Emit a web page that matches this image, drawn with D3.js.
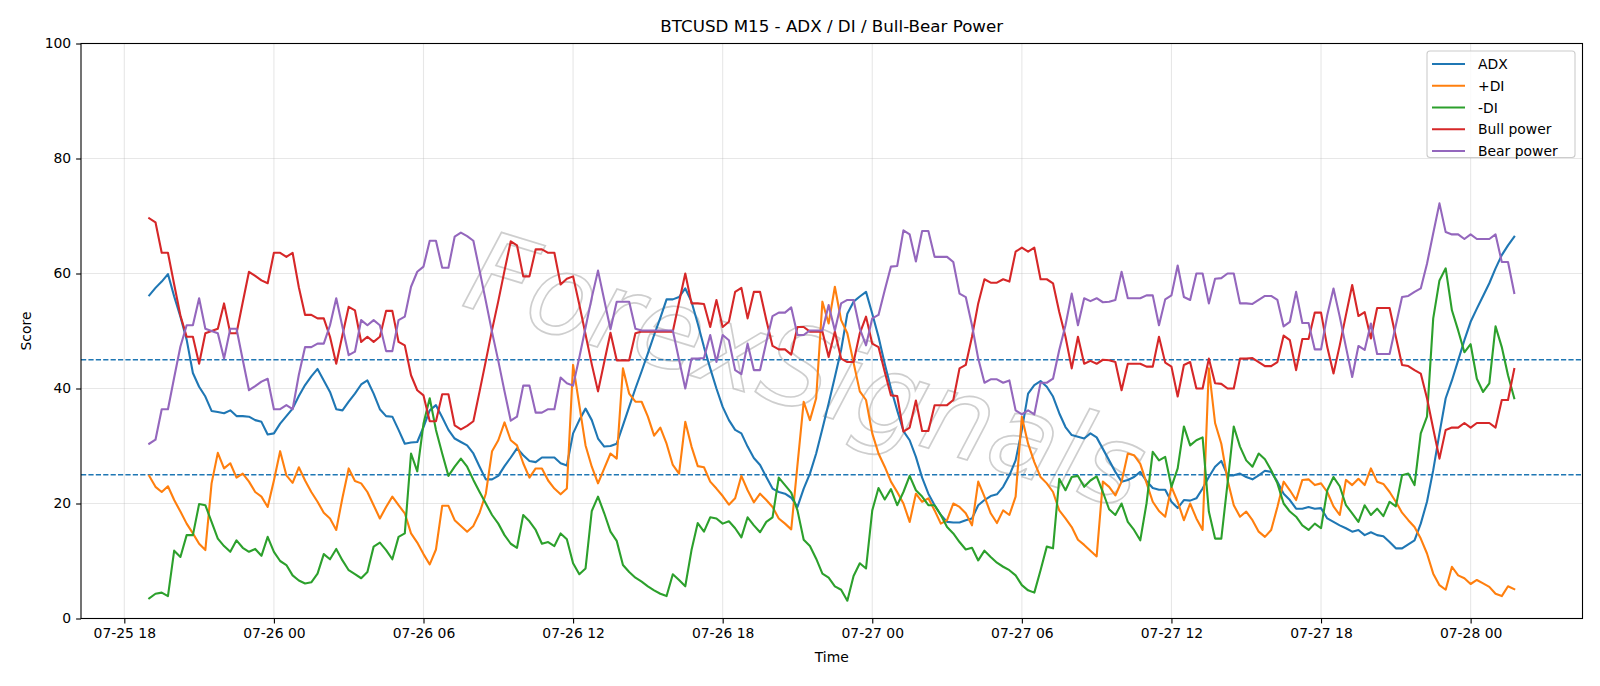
<!DOCTYPE html>
<html><head><meta charset="utf-8">
<script src="https://cdn.jsdelivr.net/npm/d3@7"></script>
<style>body{margin:0;background:#fff}svg{display:block}</style>
</head><body>
<svg id="chart" width="1600" height="686"></svg>
<script>
// ---- data ----
const startTime = new Date(2025, 6, 25, 19, 0);
const stepMinutes = 15;

const adx = [
56.2,57.5,58.6,59.9,56,52.5,48.5,42.7,40.3,38.6,
36.1,35.9,35.7,36.2,35.2,35.2,35.1,34.5,34.2,32,
32.2,33.9,35.2,36.5,38.7,40.6,42.1,43.4,41.4,39.4,
36.4,36.2,37.7,39.1,40.7,41.4,39.1,36.4,35.2,35.1,
32.8,30.4,30.6,30.7,33.3,36.2,37.1,35,32.8,31.3,
30.7,30.1,28.7,26.4,24.2,24.2,24.8,26.5,28,29.6,
28.4,27.4,27.2,28,28,28,27,26.6,32.2,34.5,
36.5,34.5,31.3,29.9,30,30.4,33.6,36.8,40,43,
46.1,49.3,52.3,55.5,55.5,55.9,57.4,55.1,51.3,47.2,
43.5,40,36.8,34.5,32.8,32.2,29.9,27.9,26.7,24.6,
22.6,22,21.7,21,19.4,22.6,25.2,28.7,33,37.4,
42,46.7,53,55.1,56,56.8,53,49,44.3,40,
36.2,32.6,31,28.1,24.5,21.7,19.7,18,16.8,16.7,
16.7,17.1,17.4,19.7,20.6,21.3,21.6,22.9,24.9,27.5,
32.8,39.1,40.6,41.3,40.3,38.6,35.7,33.3,31.9,31.6,
31.3,32.2,31.5,29.5,27.5,25.5,23.8,24.1,24.6,25.5,
23.9,22.7,22.4,22.4,20.3,19.2,20.6,20.5,20.9,22.6,
24.6,26.4,27.4,24.9,24.9,25.2,24.6,24.2,24.9,25.7,
25.5,23.8,21.7,20.6,19.1,19.1,19.4,19.1,19.2,17.4,
16.8,16.2,15.7,15.1,15.4,14.5,15,14.5,14.3,13.3,
12.2,12.2,12.9,13.6,16.5,20.3,25.8,32.2,38.3,41.4,
44.9,48.4,51.6,53.9,56.1,58.3,60.9,63.2,64.9,66.4];

const plusDI = [
24.8,22.9,22,23,20.6,18.6,16.5,14.8,13,11.9,
23.5,28.8,26.1,27,24.5,25.2,23.8,22,21.2,19.4,
24,29.1,24.9,23.6,26.3,24,22,20.3,18.4,17.4,
15.4,21,26.1,23.9,23.5,22,19.7,17.4,19.4,21.2,
19.7,18.3,14.8,13.2,11.2,9.4,12,19.6,19.6,17.1,
16.1,15.1,16.1,18.4,21.7,29.1,31,34.1,31,30.1,
27,24.5,26.1,26.1,24,22.6,21.6,22.6,44.1,37.1,
30.1,26.4,23.5,26.1,28.7,27.8,43.5,39.1,37.7,37.7,
35.1,31.8,33.2,30.4,26.7,25.2,34.2,29.9,26.5,26.3,
23.8,22.6,21.3,19.8,20.9,24.8,22.3,20.2,21.7,20.6,
19.4,17.4,16.5,15.5,26.7,37.7,34.5,38.3,55.1,51.3,
57.7,51.9,49.6,44.5,39.5,38,32.2,28.7,26.4,23.8,
22,20,16.8,21.7,20.3,20.9,18.8,16.5,17.1,20,
19.4,18.3,16.2,23.8,21.2,18.3,16.6,18.8,18,21.2,
35.1,30.4,27.2,24.6,23.5,22,18.8,17.4,15.9,13.7,
12.8,11.8,10.8,23.8,22.9,21.4,23.8,28.7,28.4,26.9,
23.6,20.3,18.7,17.7,22.9,20.3,17.1,20,17.4,15.4,
43.5,34,30.4,24.1,19.7,17.7,18.6,17.1,15.1,14.2,
15.4,19.4,23.8,22.3,20.6,24.1,24.2,23.2,23.5,22,
19.5,18,24.1,23.2,24.3,23.2,26.1,23.8,23.4,22,
20.3,18.4,17.1,15.9,13.9,11.3,7.8,5.8,5,9,
7.5,7,6,6.7,6.1,5.5,4.3,3.9,5.6,5.1];

const minusDI = [
3.5,4.3,4.5,3.9,11.8,10.7,14.5,14.5,19.9,19.7,
16.8,13.9,12.6,11.6,13.6,12.3,11.6,12.1,10.9,14.2,
11.6,10,9.3,7.5,6.6,6.1,6.3,7.8,11.2,10.3,
12.1,10.1,8.4,7.7,7,8.1,12.5,13.2,11.9,10.3,
14.2,14.8,28.7,25.6,33.9,38.3,32.8,28.7,24.8,26.4,
27.8,26.4,24.1,22,20,18,16.5,14.5,13,12.3,
18,16.9,15.4,13,13.3,12.6,14.8,13.8,9.6,7.7,
8.7,18.7,21.2,18.3,15.1,13.5,9.3,8.1,7.1,6.4,
5.6,4.9,4.3,3.9,7.7,6.7,5.6,11.9,16.6,15.1,
17.6,17.4,16.5,16.9,15.7,14.1,17.6,16.2,15,16.8,
17.6,24.5,23.2,21.9,18.8,13.7,12.6,10.4,7.8,7.1,
5.6,5,3.1,7.4,9.6,8.7,18.8,22.7,20.7,22.5,
19.7,22,24.8,22.3,21.2,19.7,19.7,18,15.9,14.8,
13.3,12,12.3,10.1,11.8,10.7,9.7,9,8.4,7.5,
5.8,4.9,4.5,8.4,12.5,12.2,24.3,22.3,24.6,24.8,
22.9,24,24.7,22,19,18,20,16.8,15.4,13.6,
20,29,27.5,28.1,22.9,26.1,33.4,30.1,31,31.5,
18.6,13.9,13.9,23.5,33.4,29.9,27.5,26.4,28.7,27.7,
25.8,23.5,20,18.6,17.7,16.2,15.4,16.5,15.7,22.3,
24.6,23,19.7,18.3,16.8,19.7,18,19.1,17.8,20.3,
19.5,24.9,25.2,23.2,32.2,35.1,52.2,58.8,60.9,53.6,
50.1,46.3,47.7,41.7,39.4,40.9,50.8,47.2,42.3,38.3];

const bullPower = [
69.6,68.9,63.6,63.6,58.1,52.7,49,49,44.3,49.6,
50,50.4,54.8,49.6,49.6,55,60.3,59.6,58.8,58.3,
63.6,63.6,62.9,63.6,57.6,52.8,52.8,52.2,52.2,49,
44.3,49.3,54.2,53.6,48.1,49,48.1,49,53.5,53.5,
48.1,47.5,42.3,39.7,38.8,34.3,34.3,39,39,33.6,
32.9,33.5,34.3,39.5,44.8,50.2,55.2,60.5,65.6,64.9,
59.5,59.5,64.2,64.2,63.6,63.6,58.1,59.1,59.5,54.6,
49.4,44.2,39.5,44.6,49.7,44.9,44.9,44.9,49.6,49.9,
49.9,49.9,49.9,49.9,49.9,55,60,54.8,54.8,54.7,
50.7,55.4,50.7,51.6,56.8,57.5,52.2,56.8,56.8,51.9,
47.4,46.8,46.8,45.9,50.7,50.7,49.9,49.9,49.9,45.5,
49.9,45.2,44.6,44.6,49.6,52.5,47.8,47.2,42.9,38.8,
38.7,32.5,33.2,37.9,32.6,32.6,37.1,37.1,37.1,38,
43.5,44.1,49,54.8,59,58.4,58.4,59,58.6,63.8,
64.5,63.8,64.5,59,59,58.3,53.3,49,43.5,49,
44.3,44.8,44.3,45,44.9,44.6,39.7,44.3,44.3,44.3,
43.8,43.8,49,44.5,43.8,38.6,44.1,44.6,40,40,
45.2,40.9,40.8,40,40,45.2,45.2,45.3,44.6,43.9,
43.9,44.6,49.2,48.4,43.2,48.6,48.6,53.2,53.2,47.2,
42.6,47.5,52.8,58,52.6,53.3,48.7,54,54,54,
49,44.1,43.9,43.2,42.6,38.3,33,27.8,32.8,33.2,
33.2,34,33.2,34,34,34,33.2,38,38,43.4];

const bearPower = [
30.4,31.1,36.4,36.4,41.9,47.3,51,51,55.7,50.4,
50,49.6,45.2,50.4,50.4,45,39.7,40.4,41.2,41.7,
36.4,36.4,37.1,36.4,42.4,47.2,47.2,47.8,47.8,51,
55.7,50.7,45.8,46.4,51.9,51,51.9,51,46.5,46.5,
51.9,52.5,57.7,60.3,61.2,65.7,65.7,61,61,66.4,
67.1,66.5,65.7,60.5,55.2,49.8,44.8,39.5,34.4,35.1,
40.5,40.5,35.8,35.8,36.4,36.4,41.9,40.9,40.5,45.4,
50.6,55.8,60.5,55.4,50.3,55.1,55.1,55.1,50.4,50.1,
50.1,50.1,50.1,50.1,50.1,45,40,45.2,45.2,45.3,
49.3,44.6,49.3,48.4,43.2,42.5,47.8,43.2,43.2,48.1,
52.6,53.2,53.2,54.1,49.3,49.3,50.1,50.1,50.1,54.5,
50.1,54.8,55.4,55.4,50.4,47.5,52.2,52.8,57.1,61.2,
61.3,67.5,66.8,62.1,67.4,67.4,62.9,62.9,62.9,62,
56.5,55.9,51,45.2,41,41.6,41.6,41,41.4,36.2,
35.5,36.2,35.5,41,41,41.7,46.7,51,56.5,51,
55.7,55.2,55.7,55,55.1,55.4,60.3,55.7,55.7,55.7,
56.2,56.2,51,55.5,56.2,61.4,55.9,55.4,60,60,
54.8,59.1,59.2,60,60,54.8,54.8,54.7,55.4,56.1,
56.1,55.4,50.8,51.6,56.8,51.4,51.4,46.8,46.8,52.8,
57.4,52.5,47.2,42,47.4,46.7,51.3,46,46,46,
51,55.9,56.1,56.8,57.4,61.7,67,72.2,67.2,66.8,
66.8,66,66.8,66,66,66,66.8,62,62,56.6];

const seriesNames = ["ADX", "+DI", "-DI", "Bull power", "Bear power"];
const seriesColors = ["#1f77b4", "#ff7f0e", "#2ca02c", "#d62728", "#9467bd"];
const seriesValues = [adx, plusDI, minusDI, bullPower, bearPower];
const refLevels = [45, 25];
const yTicks = [0, 20, 40, 60, 80, 100];
const xTickHours = [0, 6, 12, 18, 24, 30, 36, 42, 48, 54]; // offsets from 07-25 18:00
const xTickBase = new Date(2025, 6, 25, 18, 0);

// ---- layout ----
const W = 1600, H = 686;
const plot = {left: 81, right: 1582.5, top: 43.5, bottom: 618.5};
const FONT = "DejaVu Sans, Liberation Sans, sans-serif";

const times = adx.map((_, i) => new Date(startTime.getTime() + i * stepMinutes * 60000));
const t0 = times[0].getTime(), t1 = times[times.length - 1].getTime();
const pad = (t1 - t0) * 0.05;

const x = d3.scaleTime().domain([new Date(t0 - pad), new Date(t1 + pad)]).range([plot.left, plot.right]);
const y = d3.scaleLinear().domain([0, 100]).range([plot.bottom, plot.top]);

const svg = d3.select("#chart");
svg.append("rect").attr("width", W).attr("height", H).attr("fill", "#fff");

const xTicks = xTickHours.map(h => new Date(xTickBase.getTime() + h * 3600000));
const fmt = d3.timeFormat("%m-%d %H");

// grid
const grid = svg.append("g");
grid.selectAll("line.gx").data(xTicks).enter().append("line")
  .attr("x1", d => x(d)).attr("x2", d => x(d))
  .attr("y1", plot.top).attr("y2", plot.bottom)
  .attr("stroke", "#b0b0b0").attr("stroke-opacity", 0.3).attr("stroke-width", 1.1);
grid.selectAll("line.gy").data(yTicks).enter().append("line")
  .attr("x1", plot.left).attr("x2", plot.right)
  .attr("y1", d => y(d)).attr("y2", d => y(d))
  .attr("stroke", "#b0b0b0").attr("stroke-opacity", 0.3).attr("stroke-width", 1.1);

// watermark
svg.append("text")
  .attr("transform", "translate(460,305) rotate(17)")
  .attr("font-family", FONT).attr("font-style", "italic")
  .attr("font-size", 112)
  .attr("textLength", 700).attr("lengthAdjust", "spacingAndGlyphs")
  .attr("fill", "none").attr("stroke", "#bdbdbd").attr("stroke-width", 1.7)
  .attr("stroke-opacity", 0.75)
  .text("ForexSignals");

// reference lines
svg.selectAll("line.ref").data(refLevels).enter().append("line")
  .attr("x1", plot.left).attr("x2", plot.right)
  .attr("y1", d => y(d)).attr("y2", d => y(d))
  .attr("stroke", "#1f77b4").attr("stroke-width", 1.4)
  .attr("stroke-dasharray", "5.2,2.2");

// series
const clipId = "plotclip";
svg.append("clipPath").attr("id", clipId).append("rect")
  .attr("x", plot.left).attr("y", plot.top)
  .attr("width", plot.right - plot.left).attr("height", plot.bottom - plot.top);
const line = d3.line().x((d, i) => x(times[i])).y(d => y(d));
const linesG = svg.append("g").attr("clip-path", `url(#${clipId})`);
seriesValues.forEach((vals, k) => {
  linesG.append("path").datum(vals)
    .attr("d", line)
    .attr("fill", "none")
    .attr("stroke", seriesColors[k])
    .attr("stroke-width", 2.1)
    .attr("stroke-linejoin", "round")
    .attr("stroke-linecap", "square");
});

// axes
const xAxis = d3.axisBottom(x).tickValues(xTicks).tickFormat(fmt).tickSizeOuter(0).tickSize(4.9).tickPadding(4.9);
const yAxis = d3.axisLeft(y).tickValues(yTicks).tickSizeOuter(0).tickSize(4.9).tickPadding(4.9);
const gx = svg.append("g").attr("transform", `translate(0,${plot.bottom})`).call(xAxis);
const gy = svg.append("g").attr("transform", `translate(${plot.left},0)`).call(yAxis);
[gx, gy].forEach(g => {
  g.select(".domain").remove();
  g.selectAll(".tick line").attr("stroke", "#000").attr("stroke-width", 1.1);
  g.selectAll(".tick text").attr("font-family", FONT).attr("font-size", 13.9).attr("fill", "#000");
});

// frame
svg.append("rect")
  .attr("x", plot.left).attr("y", plot.top)
  .attr("width", plot.right - plot.left).attr("height", plot.bottom - plot.top)
  .attr("fill", "none").attr("stroke", "#000").attr("stroke-width", 1.1);

// title & labels
svg.append("text").attr("x", (plot.left + plot.right) / 2).attr("y", 31.5)
  .attr("text-anchor", "middle").attr("font-family", FONT).attr("font-size", 16.7)
  .text("BTCUSD M15 - ADX / DI / Bull-Bear Power");
svg.append("text").attr("x", (plot.left + plot.right) / 2).attr("y", 661.5)
  .attr("text-anchor", "middle").attr("font-family", FONT).attr("font-size", 13.9)
  .text("Time");
svg.append("text").attr("transform", `translate(30.5,${(plot.top + plot.bottom) / 2}) rotate(-90)`)
  .attr("text-anchor", "middle").attr("font-family", FONT).attr("font-size", 13.9)
  .text("Score");

// legend
const lg = svg.append("g");
lg.append("rect").attr("x", 1427).attr("y", 51).attr("width", 148).attr("height", 106.5)
  .attr("rx", 3).attr("fill", "#fff").attr("fill-opacity", 0.8)
  .attr("stroke", "#cccccc").attr("stroke-width", 1.1);
seriesNames.forEach((name, k) => {
  const cy = 64 + k * 21.75;
  lg.append("line").attr("x1", 1432).attr("x2", 1465).attr("y1", cy).attr("y2", cy)
    .attr("stroke", seriesColors[k]).attr("stroke-width", 2.1);
  lg.append("text").attr("x", 1478).attr("y", cy + 5)
    .attr("font-family", FONT).attr("font-size", 13.9).text(name);
});
</script>
</body></html>
